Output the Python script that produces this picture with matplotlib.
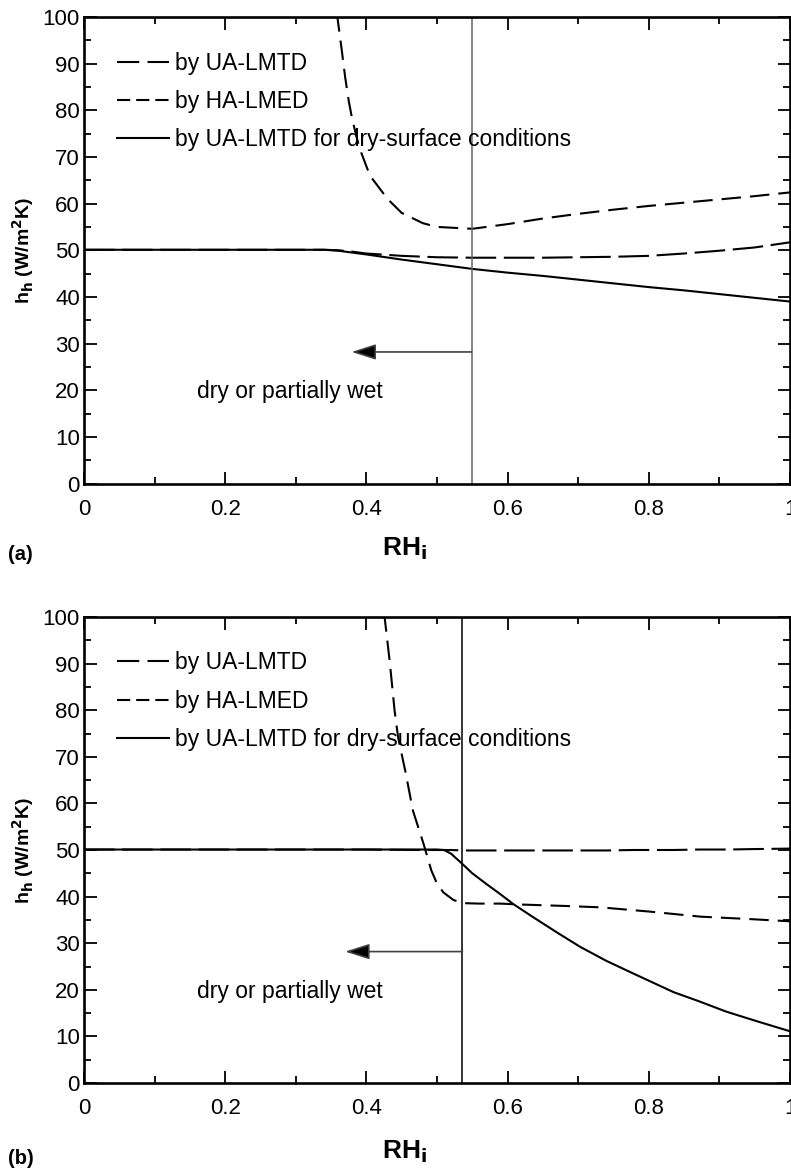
import matplotlib
matplotlib.use("Agg")
import matplotlib.pyplot as plt
from matplotlib.lines import Line2D
from matplotlib.ticker import MultipleLocator

plt.rcParams['font.family'] = ['Liberation Sans', 'DejaVu Sans']
plt.rcParams['lines.scale_dashes'] = False

# ---------------- data: panel (a) ----------------
a_x = [0, 0.1, 0.2, 0.3, 0.34, 0.36, 0.38, 0.40, 0.45, 0.50, 0.55, 0.60,
       0.65, 0.70, 0.75, 0.80, 0.85, 0.90, 0.95, 1.0]
a_ua = [50.1, 50.1, 50.1, 50.1, 50.1, 50.0, 49.7, 49.3, 48.8, 48.5, 48.4, 48.4,
        48.4, 48.5, 48.6, 48.8, 49.3, 49.9, 50.6, 51.7]
a_dry = [50.1, 50.1, 50.1, 50.1, 50.1, 49.9, 49.5, 49.1, 48.0, 47.0, 46.0, 45.2,
         44.5, 43.7, 42.9, 42.1, 41.4, 40.6, 39.8, 39.0]
a_ha_x = [0.358, 0.365, 0.370, 0.375, 0.380, 0.390, 0.405, 0.43, 0.45, 0.48, 0.50,
          0.55, 0.60, 0.65, 0.70, 0.75, 0.80, 0.85, 0.90, 0.95, 1.0]
a_ha = [101, 93, 87, 82, 78, 72, 66, 61, 58, 55.8, 55.0,
        54.6, 55.6, 56.8, 57.8, 58.7, 59.5, 60.2, 60.9, 61.6, 62.4]
a_vline = 0.549
a_arrow_tip = 0.379

# ---------------- data: panel (b) ----------------
b_x = [0, 0.1, 0.2, 0.3, 0.4, 0.48, 0.50, 0.51, 0.52, 0.536, 0.55, 0.57, 0.589,
       0.608, 0.636, 0.67, 0.703, 0.74, 0.778, 0.835, 0.87, 0.91, 0.95, 1.0]
b_ua = [50.1, 50.1, 50.1, 50.1, 50.1, 50.0, 50.0, 50.0, 50.0, 49.9, 49.9, 49.9, 49.9,
        49.9, 49.9, 49.9, 49.9, 49.9, 50.0, 50.0, 50.1, 50.1, 50.2, 50.3]
b_dry = [50.1, 50.1, 50.1, 50.1, 50.1, 50.1, 50.1, 50.0, 49.2, 47.0, 45.0, 42.7, 40.6,
         38.4, 35.6, 32.3, 29.2, 26.2, 23.5, 19.5, 17.6, 15.3, 13.4, 11.1]
b_ha_x = [0.425, 0.433, 0.440, 0.445, 0.455, 0.466, 0.481, 0.492, 0.500, 0.509,
          0.523, 0.536, 0.56, 0.589, 0.618, 0.68, 0.731, 0.80, 0.873, 0.94, 1.0]
b_ha = [101, 90.5, 79.8, 74.1, 67.0, 58.4, 51.3, 45.6, 42.8, 40.9,
        39.3, 38.6, 38.5, 38.5, 38.3, 38.0, 37.7, 36.8, 35.7, 35.2, 34.7]
b_vline = 0.536
b_arrow_tip = 0.370

arrow_y = 28.2
legend_labels = ["by UA-LMTD", "by HA-LMED", "by UA-LMTD for dry-surface conditions"]
note_text = "dry or partially wet"

LONG = (0, (22, 5.5))
SHORT = (0, (14, 6.5))
LW = 1.5

fig = plt.figure(figsize=(7.91, 11.68), dpi=100)
W, H = 791.0, 1168.0
ax_a = fig.add_axes([84 / W, (H - 483.5) / H, 706 / W, 466.5 / H])
ax_b = fig.add_axes([84 / W, (H - 1083) / H, 706 / W, 466 / H])


def style(ax):
    ax.set_xlim(0, 1)
    ax.set_ylim(0, 100)
    ax.xaxis.set_major_locator(MultipleLocator(0.2))
    ax.xaxis.set_minor_locator(MultipleLocator(0.1))
    ax.yaxis.set_major_locator(MultipleLocator(10))
    ax.yaxis.set_minor_locator(MultipleLocator(5))
    ax.set_xticks([0, 0.2, 0.4, 0.6, 0.8, 1.0])
    ax.set_xticklabels(["0", "0.2", "0.4", "0.6", "0.8", "1"])
    for s in ax.spines.values():
        s.set_linewidth(1.9)
    ax.tick_params(which='both', direction='in', top=True, right=True,
                   labelsize=16, width=1.3)
    ax.tick_params(which='major', length=9)
    ax.tick_params(which='minor', length=5)
    ax.tick_params(axis='x', which='major', pad=11)
    ax.tick_params(axis='y', which='major', pad=3)
    ax.set_ylabel("h$_\\mathbf{h}$ (W/m$^\\mathbf{2}$K)", fontsize=14,
                  fontweight='bold')
    ax.yaxis.set_label_coords(-0.068, 0.5)


def panel(ax, x, ua, dry, hx, ha, vline, tip, vcolor):
    style(ax)
    ax.plot(x, ua, color='k', lw=LW, linestyle=LONG)
    ax.plot(hx, ha, color='k', lw=LW, linestyle=SHORT)
    ax.plot(x, dry, color='k', lw=LW, linestyle='-')
    ax.axvline(vline, color=vcolor, lw=1.1)
    ax.annotate("", xy=(tip, arrow_y), xytext=(vline, arrow_y),
                arrowprops=dict(arrowstyle='-|>,head_length=1.5,head_width=0.48',
                                ec='0.25', fc='k', lw=1.2, shrinkA=0, shrinkB=0))
    ax.text(0.16, 19.7, note_text, fontsize=16.5, ha='left', va='center')
    handles = [Line2D([], [], color='k', lw=LW, linestyle=(0, (16, 6))),
               Line2D([], [], color='k', lw=LW, linestyle=(0, (9.5, 4.3))),
               Line2D([], [], color='k', lw=LW, linestyle='-')]
    ax.legend(handles, legend_labels, loc='upper left', bbox_to_anchor=(0.047, 0.926),
              frameon=False, fontsize=16.5, handlelength=2.27, handletextpad=0.26,
              labelspacing=0.67, borderpad=0, borderaxespad=0)


panel(ax_a, a_x, a_ua, a_dry, a_ha_x, a_ha, a_vline, a_arrow_tip, '0.4')
panel(ax_b, b_x, b_ua, b_dry, b_ha_x, b_ha, b_vline, b_arrow_tip, 'k')

for ax, lab, yr, yl in [(ax_a, "(a)", 549, 554), (ax_b, "(b)", 1152, 1158)]:
    fig.text(382 / W, 1 - yr / H, "RH$_\\mathbf{i}$", fontsize=19, fontweight='bold',
             ha='left', va='center')
    fig.text(8 / W, 1 - yl / H, lab, fontsize=14.5, fontweight='bold',
             ha='left', va='center')

fig.savefig("out.png", dpi=100)
